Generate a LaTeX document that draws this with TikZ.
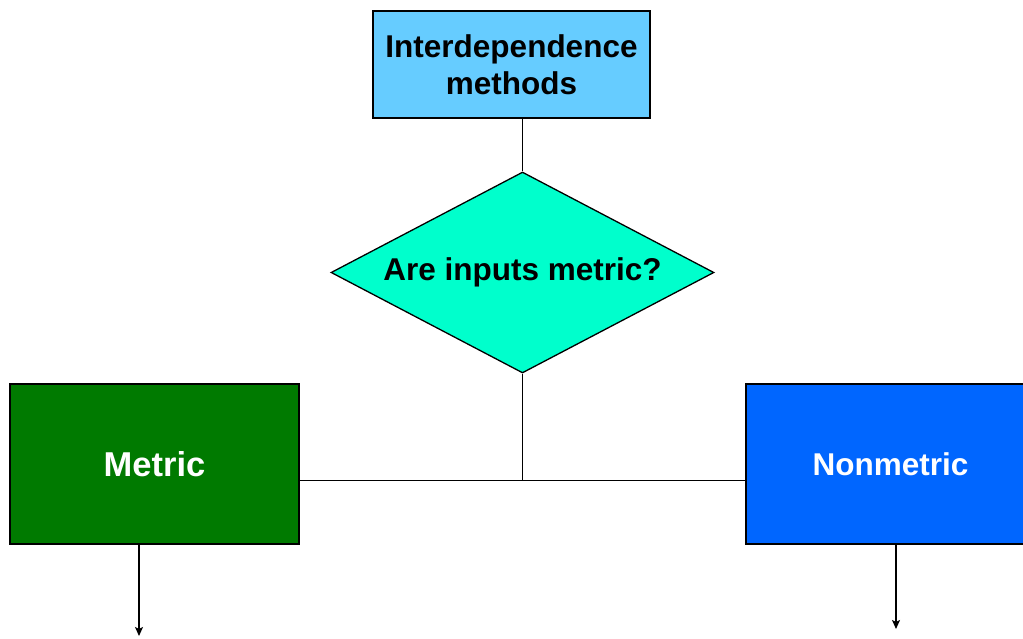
\documentclass[tikz,border=0pt]{standalone}
\usepackage{fontspec}
\setmainfont{Liberation Sans}
\usetikzlibrary{shapes.geometric,arrows.meta}
\definecolor{skyfill}{RGB}{102,204,255}
\definecolor{aquafill}{RGB}{0,255,204}
\definecolor{greenfill}{RGB}{0,122,0}
\definecolor{bluefill}{RGB}{0,102,255}
\begin{document}
\begin{tikzpicture}[x=1pt,y=-1pt,
  every node/.style={font=\fontsize{31.5}{37}\selectfont\bfseries, align=center},
  box/.style={draw=black, line width=1.3pt, rectangle, inner sep=0pt},
  decision/.style={draw=black, line width=1.3pt, diamond, inner sep=0pt,
    shape aspect=1.905, minimum width=383pt, minimum height=201pt},
  link/.style={line width=1.3pt},
  arrowlink/.style={line width=1.3pt, -{Stealth[length=9pt,width=8pt,inset=2pt]}}]
\useasboundingbox (0,0) rectangle (1023,639);
\clip (0,0) rectangle (1023,639);
% start box
\node[box, fill=skyfill, minimum width=277pt, minimum height=107pt] (top) at (511.5,64.5)
  {Interdependence\\methods};
% decision diamond
\node[decision, fill=aquafill] (dec) at (522.5,272.5) {Are inputs metric?};
% outcome boxes
\node[box, fill=greenfill, text=white, minimum width=289pt, minimum height=160pt,
  font=\fontsize{34.5}{40}\selectfont\bfseries] (metric)
  at (154.5,464) {Metric};
\node[box, fill=bluefill, text=white, minimum width=289pt, minimum height=160pt] (nonmetric)
  at (890.5,464) {Nonmetric};
% connectors
\draw[link] (top.south -| dec.north) -- (dec.north);
\coordinate (join) at (dec.south |- 0,480.5);
\draw[link] (dec.south) -- (join);
\draw[link] (metric.east |- join) -- (nonmetric.west |- join);
\coordinate (mend) at (139,636);
\coordinate (nend) at (896,629);
\draw[arrowlink] (metric.south -| mend) -- (mend);
\draw[arrowlink] (nonmetric.south -| nend) -- (nend);
\end{tikzpicture}
\end{document}
